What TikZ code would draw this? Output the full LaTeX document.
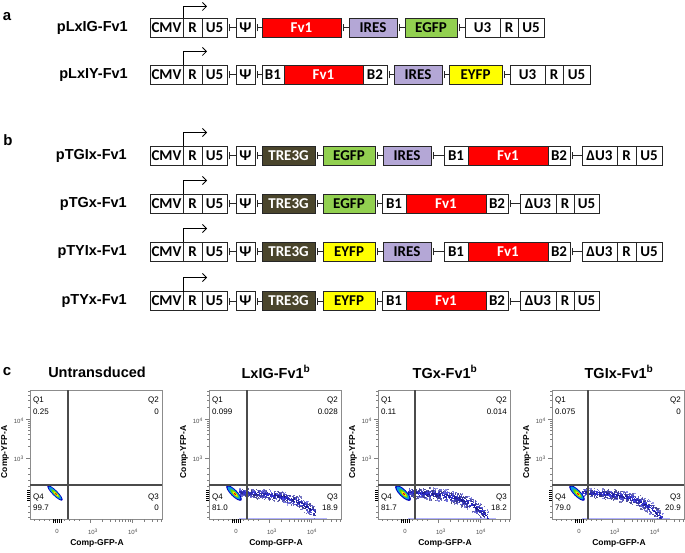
\documentclass[tikz,border=0pt]{standalone}
\usepackage{fontspec}
\setmainfont{Liberation Sans}
\newfontfamily\partfont{Carlito}
\usetikzlibrary{positioning,arrows.meta}
\definecolor{fvred}{RGB}{255,0,0}
\definecolor{iresviolet}{RGB}{180,167,214}
\definecolor{egfpgreen}{RGB}{146,208,80}
\definecolor{eyfpyellow}{RGB}{255,255,0}
\definecolor{treolive}{RGB}{74,69,44}
\definecolor{gategray}{RGB}{75,75,75}
\definecolor{dotblue}{RGB}{40,40,230}
\tikzset{
  part/.style={draw=black!85, line width=0.9pt, fill=white, minimum height=19pt,
    inner sep=0pt, outer sep=0pt, font=\partfont\bfseries\fontsize{15}{15}\selectfont},
  fv/.style={part, fill=fvred, text=white},
  ires/.style={part, fill=iresviolet},
  egfp/.style={part, fill=egfpgreen},
  eyfp/.style={part, fill=eyfpyellow},
  tre/.style={part, fill=treolive, text=white},
  link/.style={line width=1pt, draw=black!85, {Bar[width=7pt,line width=1pt]}-, shorten <=1.5pt},
  promoter/.style={line width=0.8pt, -{Straight Barb[length=4pt,width=8pt]}},
  construct/.style={inner sep=0pt, font=\bfseries\fontsize{14.5}{14.5}\selectfont},
  panel/.style={inner sep=0pt, font=\bfseries\fontsize{15}{15}\selectfont},
  plottitle/.style={inner sep=0pt, font=\bfseries\fontsize{14.5}{14.5}\selectfont},
  plotframe/.style={draw=black!45, line width=0.7pt},
  gate/.style={draw=gategray, line width=1.3pt},
  axtick/.style={draw=black!50, line width=0.5pt},
  zerotick/.style={draw=black, line width=0.8pt},
  quadlbl/.style={inner sep=0pt, font=\fontsize{8}{8}\selectfont},
  ticklbl/.style={inner sep=0pt, text=black!70, font=\fontsize{6}{6}\selectfont},
  axlbl/.style={inner sep=0pt, font=\bfseries\fontsize{8.5}{8.5}\selectfont},
}
\begin{document}
\begin{tikzpicture}[x=1pt,y=-1pt]
  \useasboundingbox (0,0) rectangle (685,553);

  % a: retroviral constructs
  \node[panel] (lbla) at (7,17) {a};

  \node[part,minimum width=33pt,anchor=west] (a1-cmv) at (150,28) {CMV};
  \node[part,minimum width=19pt,right=0pt of a1-cmv] (a1-r) {R};
  \node[part,minimum width=25pt,right=0pt of a1-r] (a1-u5) {U5};
  \node[part,minimum width=19pt,right=9pt of a1-u5] (a1-psi) {Ψ};
  \node[fv,minimum width=79pt,right=7pt of a1-psi] (a1-fv) {Fv1};
  \node[ires,minimum width=48pt,right=8pt of a1-fv] (a1-ires) {IRES};
  \node[egfp,minimum width=52pt,right=8pt of a1-ires] (a1-fp) {EGFP};
  \node[part,minimum width=35pt,right=8pt of a1-fp] (a1-u3) {U3};
  \node[part,minimum width=18pt,right=0pt of a1-u3] (a1-rr) {R};
  \node[part,minimum width=26pt,right=0pt of a1-rr] (a1-uf) {U5};
  \node[construct,left=22pt of a1-cmv] (a1-name) {pLxIG-Fv1};
  \foreach \p/\q in {u5/psi,psi/fv,fv/ires,ires/fp,fp/u3}
    \draw[link] (a1-\p) -- (a1-\q);
  \draw[promoter] (a1-r.north west) |- ++(24,-12);

  \node[part,minimum width=33pt,anchor=west] (a2-cmv) at (150,75) {CMV};
  \node[part,minimum width=19pt,right=0pt of a2-cmv] (a2-r) {R};
  \node[part,minimum width=25pt,right=0pt of a2-r] (a2-u5) {U5};
  \node[part,minimum width=19pt,right=9pt of a2-u5] (a2-psi) {Ψ};
  \node[part,minimum width=22pt,right=7pt of a2-psi] (a2-bone) {B1};
  \node[fv,minimum width=79pt,right=0pt of a2-bone] (a2-fv) {Fv1};
  \node[part,minimum width=24pt,right=0pt of a2-fv] (a2-btwo) {B2};
  \node[ires,minimum width=48pt,right=7pt of a2-btwo] (a2-ires) {IRES};
  \node[eyfp,minimum width=53pt,right=7pt of a2-ires] (a2-fp) {EYFP};
  \node[part,minimum width=35pt,right=8pt of a2-fp] (a2-u3) {U3};
  \node[part,minimum width=18pt,right=0pt of a2-u3] (a2-rr) {R};
  \node[part,minimum width=27pt,right=0pt of a2-rr] (a2-uf) {U5};
  \node[construct,left=22pt of a2-cmv] (a2-name) {pLxIY-Fv1};
  \foreach \p/\q in {u5/psi,psi/bone,btwo/ires,ires/fp,fp/u3}
    \draw[link] (a2-\p) -- (a2-\q);
  \draw[promoter] (a2-r.north west) |- ++(24,-14);

  % b: tet-inducible constructs
  \node[panel] (lblb) at (8,140) {b};

  \foreach \row/\y/\fp/\fptxt/\name in {b1/156/egfp/EGFP/pTGIx-Fv1, b3/252/eyfp/EYFP/pTYIx-Fv1}{
    \node[part,minimum width=33pt,anchor=west] (\row-cmv) at (150,\y) {CMV};
    \node[part,minimum width=19pt,right=0pt of \row-cmv] (\row-r) {R};
    \node[part,minimum width=25pt,right=0pt of \row-r] (\row-u5) {U5};
    \node[part,minimum width=19pt,right=9pt of \row-u5] (\row-psi) {Ψ};
    \node[tre,minimum width=53pt,right=7pt of \row-psi] (\row-tre) {TRE3G};
    \node[\fp,minimum width=52pt,right=8pt of \row-tre] (\row-fp) {\fptxt};
    \node[ires,minimum width=48pt,right=8pt of \row-fp] (\row-ires) {IRES};
    \node[part,minimum width=24pt,right=13pt of \row-ires] (\row-bone) {B1};
    \node[fv,minimum width=80pt,right=0pt of \row-bone] (\row-fv) {Fv1};
    \node[part,minimum width=22pt,right=0pt of \row-fv] (\row-btwo) {B2};
    \node[part,minimum width=35pt,right=12pt of \row-btwo] (\row-du) {ΔU3};
    \node[part,minimum width=19pt,right=0pt of \row-du] (\row-rr) {R};
    \node[part,minimum width=26pt,right=0pt of \row-rr] (\row-uf) {U5};
    \node[construct,left=23pt of \row-cmv] (\row-name) {\name};
    \foreach \p/\q in {u5/psi,psi/tre,tre/fp,fp/ires,ires/bone,btwo/du}
      \draw[link] (\row-\p) -- (\row-\q);
    \draw[promoter] (\row-r.north west) |- ++(24,-14);
  }

  \foreach \row/\y/\fp/\fptxt/\name in {b2/204/egfp/EGFP/pTGx-Fv1, b4/301/eyfp/EYFP/pTYx-Fv1}{
    \node[part,minimum width=33pt,anchor=west] (\row-cmv) at (150,\y) {CMV};
    \node[part,minimum width=19pt,right=0pt of \row-cmv] (\row-r) {R};
    \node[part,minimum width=25pt,right=0pt of \row-r] (\row-u5) {U5};
    \node[part,minimum width=19pt,right=9pt of \row-u5] (\row-psi) {Ψ};
    \node[tre,minimum width=53pt,right=7pt of \row-psi] (\row-tre) {TRE3G};
    \node[\fp,minimum width=52pt,right=8pt of \row-tre] (\row-fp) {\fptxt};
    \node[part,minimum width=24pt,right=7pt of \row-fp] (\row-bone) {B1};
    \node[fv,minimum width=80pt,right=0pt of \row-bone] (\row-fv) {Fv1};
    \node[part,minimum width=22pt,right=0pt of \row-fv] (\row-btwo) {B2};
    \node[part,minimum width=36pt,right=12pt of \row-btwo] (\row-du) {ΔU3};
    \node[part,minimum width=18pt,right=0pt of \row-du] (\row-rr) {R};
    \node[part,minimum width=25pt,right=0pt of \row-rr] (\row-uf) {U5};
    \node[construct,left=23pt of \row-cmv] (\row-name) {\name};
    \foreach \p/\q in {u5/psi,psi/tre,tre/fp,fp/bone,btwo/du}
      \draw[link] (\row-\p) -- (\row-\q);
    \draw[promoter] (\row-r.north west) |- ++(24,-14);
  }

  % c: flow cytometry
  \node[panel] (lblc) at (7,372) {c};

  % GFP+ events
  \pgfmathsetseed{42}
  \foreach \L/\n/\sx/\sd/\sp in {209/600/106/16/5, 378/700/110/21/6, 552/700/111/23/5}{
    \begin{scope}[shift={(\L,390)}]
      \clip (0,0) rectangle (132,129);
      \draw[blue!30, line width=1.2pt] (30,128.4) -- (118,128.4);
      \foreach \i in {1,...,\n}{
        \pgfmathsetmacro\t{rnd}
        \pgfmathsetmacro\r{rnd+rnd-1}
        \pgfmathsetmacro\px{30+\t*(\sx-30)}
        \pgfmathsetmacro\py{102+5*\t+\sd*\t^4+\r*(\sp+3*\t)}
        \pgfmathsetmacro\lt{int(100-60*abs(\r))}
        \pgfmathsetmacro\keep{int(55+45*rnd)}
        \fill[dotblue!\lt!white!\keep!black] (\px,\py) rectangle ++(1.3,1.3);
      }
    \end{scope}
  }

  % untransduced population
  \foreach \L/\w in {30/0.8,209/1,378/1.1,552/1}{
    \begin{scope}[shift={(\L,390)}]
      \fill[blue!75!black, rotate around={-45:(25,103)}] (25,103) ellipse [x radius=10.5, y radius=3.4*\w];
      \fill[cyan!85!blue, rotate around={-45:(25,103)}] (25,103) ellipse [x radius=8.8, y radius=2.5*\w];
      \fill[green!75!black!60!yellow, rotate around={-45:(25.5,103.5)}] (25.5,103.5) ellipse [x radius=6, y radius=1.7*\w];
      \fill[yellow!90!orange, rotate around={-45:(26,104)}] (26,104) ellipse [x radius=3.6, y radius=1.1*\w];
      \fill[red!90!black, rotate around={-45:(26,104)}] (26,104) ellipse [x radius=1.6, y radius=0.7*\w];
    \end{scope}
  }
  \draw[blue!60, line width=0.8pt] (68,500) -- (68,519);

  % axes, gates, quadrant statistics
  \foreach \pl/\L/\gx/\ttl/\qa/\qb/\qd/\qc in {
      p1/30/38/Untransduced/0.25/0/99.7/0,
      p2/209/38/{LxIG-Fv1\textsuperscript{b}}/0.099/0.028/81.0/18.9,
      p3/378/37/{TGx-Fv1\textsuperscript{b}}/0.11/0.014/81.7/18.2,
      p4/552/36/{TGIx-Fv1\textsuperscript{b}}/0.075/0/79.0/20.9}{
    \begin{scope}[shift={(\L,390)}]
      \node[plottitle] (\pl-title) at (67,-18) {\ttl};
      \draw[plotframe] (0,0) rectangle (132,129);
      \draw[gate] (\gx,0) -- (\gx,129);
      \draw[gate] (0,95) -- (132,95);
      \node[quadlbl,anchor=west] (\pl-qa) at (3,10) {Q1};
      \node[quadlbl,anchor=west] (\pl-va) at (3,22) {\qa};
      \node[quadlbl,anchor=east] (\pl-qb) at (129,10) {Q2};
      \node[quadlbl,anchor=east] (\pl-vb) at (129,22) {\qb};
      \node[quadlbl,anchor=west] (\pl-qd) at (3,107) {Q4};
      \node[quadlbl,anchor=west] (\pl-vd) at (3,118) {\qd};
      \node[quadlbl,anchor=east] (\pl-qc) at (129,107) {Q3};
      \node[quadlbl,anchor=east] (\pl-vc) at (129,118) {\qc};
      % ticks
      \foreach \k in {2,...,9}{
        \draw[axtick] ({60+42*log10(\k)},129) -- ++(0,2.5);
        \draw[axtick] (0,{68-39*log10(\k)}) -- ++(-2.5,0);
      }
      \foreach \k in {2,...,5}{
        \draw[axtick] ({102+42*log10(\k)},129) -- ++(0,2.5);
        \draw[axtick] (0,{29-39*log10(\k)}) -- ++(-2.5,0);
      }
      \foreach \t in {4,9,...,49}
        \draw[axtick] (\t,129) -- ++(0,2);
      \foreach \t in {78,84,90,96,116,122,127}
        \draw[axtick] (0,\t) -- ++(-2,0);
      \draw[axtick] (60,129) -- ++(0,4);
      \draw[axtick] (102,129) -- ++(0,4);
      \draw[axtick] (0,68) -- ++(-4,0);
      \draw[axtick] (0,29) -- ++(-4,0);
      \foreach \t in {23,25,27,29,31}
        \draw[zerotick] (\t,129) -- ++(0,3.5);
      \foreach \t in {100,102,...,110}
        \draw[zerotick] (0,\t) -- ++(-3.5,0);
      \node[ticklbl,anchor=east] (\pl-yf) at (-6,31) {10\textsuperscript{4}};
      \node[ticklbl,anchor=east] (\pl-yt) at (-6,69) {10\textsuperscript{3}};
      \node[ticklbl] (\pl-x0) at (27,141) {0};
      \node[ticklbl] (\pl-xt) at (63,142) {10\textsuperscript{3}};
      \node[ticklbl] (\pl-xf) at (103,142) {10\textsuperscript{4}};
      \node[axlbl,rotate=90] (\pl-ylab) at (-25,62) {Comp-YFP-A};
      \node[axlbl] (\pl-xlab) at (67,153) {Comp-GFP-A};
    \end{scope}
  }
\end{tikzpicture}
\end{document}
